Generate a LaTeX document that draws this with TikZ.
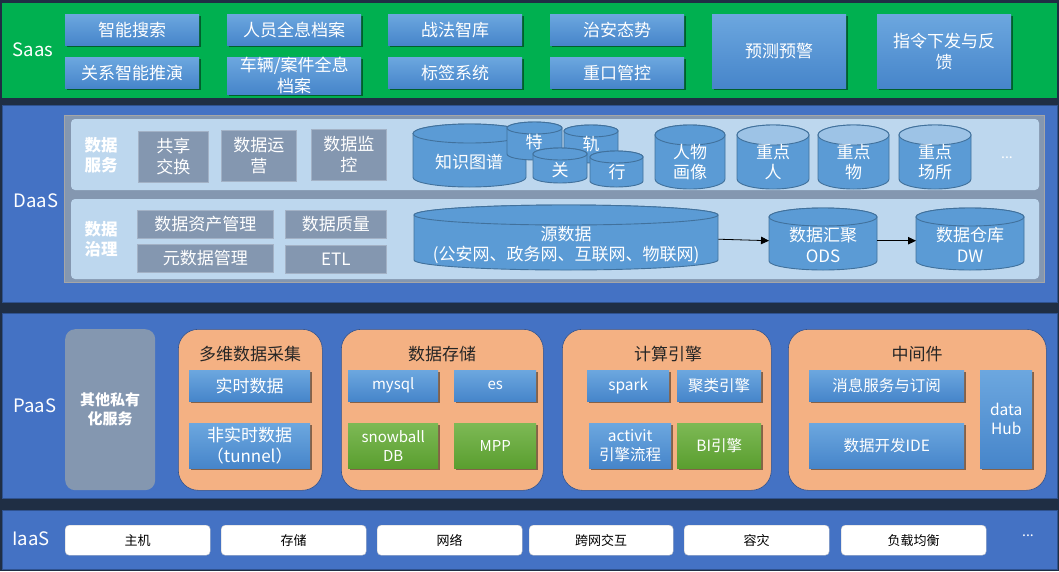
\documentclass[tikz,border=0pt]{standalone}
\usepackage{fontspec}
\setmainfont{Noto Sans CJK SC}
\usetikzlibrary{shadows,arrows.meta}
\definecolor{bgdark}{HTML}{1F2E44}
\definecolor{saasgreen}{HTML}{00B050}
\definecolor{bandblue}{HTML}{4472C4}
\definecolor{bandline}{HTML}{2F528F}
\definecolor{bxtop}{HTML}{6CA7DF}
\definecolor{bxbot}{HTML}{4685CA}
\definecolor{gtop}{HTML}{7DB955}
\definecolor{gbot}{HTML}{5A9E2F}
\definecolor{grayfill}{HTML}{8497B0}
\definecolor{grayline}{HTML}{A3B2C6}
\definecolor{lightpanel}{HTML}{BDD7EE}
\definecolor{cylfill}{HTML}{5B9BD5}
\definecolor{cylline}{HTML}{41719C}
\definecolor{cyltop}{HTML}{9DC3E6}
\definecolor{orangefill}{HTML}{F4B183}
\definecolor{titletext}{HTML}{262626}
\tikzset{
  lbl/.style={text=white, font=\fontsize{18.5}{22}\selectfont},
  f17/.style={font=\fontsize{17}{21}\selectfont},
  f16/.style={font=\fontsize{15.5}{19}\selectfont},
  f15/.style={font=\fontsize{15}{19}\selectfont},
  bluebox/.style={anchor=north west, inner sep=0pt, align=center, text=white,
    top color=bxtop, bottom color=bxbot, draw=none,
    drop shadow={shadow xshift=1.5pt, shadow yshift=-1.8pt, opacity=0.45, fill=black}},
  greenbox/.style={bluebox, top color=gtop, bottom color=gbot},
  graybox/.style={anchor=north west, inner sep=0pt, align=center, text=white,
    fill=grayfill, draw=grayline, line width=0.8pt, f17},
  whitebox/.style={anchor=north west, inner sep=0pt, fill=white, draw=gray!45,
    rounded corners=4pt, text=black, font=\fontsize{13}{15}\selectfont},
  orangebox/.style={anchor=north west, inner sep=0pt, fill=orangefill, draw=bandline,
    line width=0.6pt, rounded corners=20pt},
  otitle/.style={text=titletext, font=\fontsize{17}{21}\selectfont},
  headtext/.style={text=white, align=center, font=\fontsize{16.5}{20.5}\selectfont\bfseries},
  cylb/.style={fill=cylfill, draw=cylline, line width=0.9pt},
  cyltext/.style={text=white, align=center, inner sep=0pt, font=\fontsize{17}{20.5}\selectfont},
  band/.style={draw=bandline, line width=0.8pt},
  conn/.style={draw=black, line width=0.8pt, -{Triangle[length=8pt,width=7.5pt]}}
}
\newcommand\bx[7]{\node[#1, minimum width=#5pt, minimum height=#6pt] (#2) at (#3,#4) {#7};}
% name, x1, y1, x2, y2, ry, top fill
\newcommand\cyl[7]{%
  \pgfmathsetmacro\crx{(#4-#2)/2}%
  \pgfmathsetmacro\ccx{(#2+#4)/2}%
  \pgfmathsetmacro\ccw{#4-#2}%
  \pgfmathsetmacro\cch{#5-#3}%
  \path[cylb] (#2,#3+#6) -- (#2,#5-#6) arc[start angle=180,end angle=0,x radius=\crx,y radius=#6]
     -- (#4,#3+#6) arc[start angle=0,end angle=-180,x radius=\crx,y radius=#6] -- cycle;
  \path[cylb, fill=#7] (\ccx,#3+#6) ellipse[x radius=\crx, y radius=#6];
  \node[inner sep=0pt, minimum width=\ccw pt, minimum height=\cch pt, anchor=north west] (#1) at (#2,#3) {};
}
\begin{document}
\begin{tikzpicture}[x=1pt,y=-1pt]
\useasboundingbox (0,0) rectangle (1059,571);
\fill[bgdark] (0,0) rectangle (1059,571);

% ---------------- Saas ----------------
\path[fill=saasgreen] (2,3) rectangle (1057,98);
\node[lbl] (saas) at (33,50) {Saas};
\bx{bluebox,f17}{s1}{65}{14}{134}{31}{智能搜索}
\bx{bluebox,f17}{s2}{65}{57}{134}{31}{关系智能推演}
\bx{bluebox,f17}{s3}{227}{14}{134}{31}{人员全息档案}
\bx{bluebox,f17}{s4}{227}{57}{134}{31}{车辆/案件全息\\档案}
\bx{bluebox,f17}{s5}{388}{14}{134}{31}{战法智库}
\bx{bluebox,f17}{s6}{388}{57}{134}{31}{标签系统}
\bx{bluebox,f17}{s7}{550}{14}{134}{31}{治安态势}
\bx{bluebox,f17}{s8}{550}{57}{134}{31}{重口管控}
\bx{bluebox,f17}{s9}{712}{14}{134}{74}{预测预警}
\bx{bluebox,f17}{s10}{877}{14}{134}{74}{指令下发与反\\馈}

% ---------------- DaaS ----------------
\path[band, fill=bandblue] (2,105) rectangle (1057,302);
\node[lbl] (daas) at (36,201) {DaaS};
\path[fill=grayfill, draw=gray!70] (64,115) rectangle (1044,282);
\path[fill=lightpanel, rounded corners=4pt] (71,119) rectangle (1039,190);
\path[fill=lightpanel, rounded corners=4pt] (71,199) rectangle (1039,279);
\node[headtext] (dsvc) at (101,155) {数据\\服务};
\node[headtext] (dgov) at (101,239) {数据\\治理};
\bx{graybox}{g1}{138}{131}{70}{51}{共享\\交换}
\bx{graybox}{g2}{221}{130}{75}{51}{数据运\\营}
\bx{graybox}{g3}{311}{129}{75}{51}{数据监\\控}
\bx{graybox}{g4}{137}{210}{136}{28}{数据资产管理}
\bx{graybox}{g5}{137}{244}{136}{28}{元数据管理}
\bx{graybox}{g6}{285}{210}{101}{28}{数据质量}
\bx{graybox}{g7}{285}{245}{101}{28}{ETL}

\cyl{zs}{413}{124}{526}{187}{9.5}{cylfill}
\node[cyltext] (zs-t) at (469,162) {知识图谱};
\cyl{te}{507}{122}{562}{160}{6}{cylfill}
\node[cyltext] (te-t) at (534,142) {特};
\cyl{gu}{564}{125}{618}{163}{6}{cylfill}
\node[cyltext] (gu-t) at (591,144) {轨};
\cyl{ga}{533}{148}{587}{183}{6}{cylfill}
\node[cyltext] (ga-t) at (560,170) {关};
\cyl{xi}{590}{151}{643}{187}{6}{cylfill}
\node[cyltext] (xi-t) at (617,172) {行};
\cyl{rw}{655}{125}{725}{189}{10}{cylfill}
\node[cyltext] (rw-t) at (690,162) {人物\\画像};
\cyl{zr}{737}{125}{809}{189}{10}{cyltop}
\node[cyltext] (zr-t) at (773,162) {重点\\人};
\cyl{zw}{818}{125}{889}{189}{10}{cyltop}
\node[cyltext] (zw-t) at (853.5,162) {重点\\物};
\cyl{zc}{899}{125}{971}{189}{10}{cyltop}
\node[cyltext] (zc-t) at (935,162) {重点\\场所};
\node[text=white, font=\fontsize{14}{16}\selectfont] (dots1) at (1007,158) {...};

\cyl{src}{414}{205}{718}{270}{10}{cylfill}
\node[cyltext] (src-t) at (566,245) {源数据\\(公安网、政务网、互联网、物联网)};
\cyl{ods}{769}{208}{877}{270}{9}{cylfill}
\node[cyltext] (ods-t) at (823,245) {数据汇聚\\ODS};
\cyl{dw}{916}{208}{1024}{270}{9}{cylfill}
\node[cyltext] (dw-t) at (970,245) {数据仓库\\DW};
\draw[conn] ([yshift=-1.5pt]src.east) -- ([yshift=-1.5pt]ods.west);
\draw[conn] ([yshift=-1.5pt]ods.east) -- ([yshift=-1.5pt]dw.west);

% ---------------- PaaS ----------------
\path[band, fill=bandblue] (2,313) rectangle (1057,498);
\node[lbl] (paas) at (35,406) {PaaS};
\node[anchor=north west, inner sep=0pt, fill=grayfill, rounded corners=10pt,
  minimum width=90pt, minimum height=161pt] (oth) at (65,329) {};
\node[headtext, font=\fontsize{15}{19}\selectfont\bfseries] (oth-t) at (oth.center) {其他私有\\化服务};

\bx{orangebox}{acq}{178}{329}{144}{161}{}
\node[otitle] (acq-t) at (250,354) {多维数据采集};
\bx{orangebox}{sto}{341}{329}{202}{161}{}
\node[otitle] (sto-t) at (442,354) {数据存储};
\bx{orangebox}{cmp}{562}{329}{209}{161}{}
\node[otitle] (cmp-t) at (668,354) {计算引擎};
\bx{orangebox}{mid}{788}{329}{258}{161}{}
\node[otitle] (mid-t) at (917,354) {中间件};

\bx{bluebox,f17}{p1}{189}{370}{121}{31}{实时数据}
\bx{bluebox,f17}{p2}{189}{423}{121}{45}{非实时数据\\（tunnel）}
\bx{bluebox,f15}{m1}{348}{370}{90}{31}{mysql}
\bx{bluebox,f15}{m2}{454}{370}{82}{31}{es}
\bx{greenbox,f15}{m3}{348}{423}{90}{45}{snowball\\DB}
\bx{greenbox,f15}{m4}{454}{423}{82}{45}{MPP}
\bx{bluebox,f16}{c1}{587}{370}{82}{31}{spark}
\bx{bluebox,f16}{c2}{677}{370}{84}{31}{聚类引擎}
\bx{bluebox,f16}{c3}{589}{423}{82}{45}{activit\\引擎流程}
\bx{greenbox,f16}{c4}{677}{423}{84}{45}{BI引擎}
\bx{bluebox,f16}{w1}{809}{370}{155}{31}{消息服务与订阅}
\bx{bluebox,f16}{w2}{809}{423}{155}{45}{数据开发IDE}
\bx{bluebox,f16}{w3}{980}{370}{52}{98}{data\\Hub}

% ---------------- IaaS ----------------
\path[band, fill=bandblue] (2,510) rectangle (1057,569);
\node[lbl] (iaas) at (31,539) {IaaS};
\bx{whitebox}{i1}{65}{525}{145}{30}{主机}
\bx{whitebox}{i2}{221}{525}{145}{30}{存储}
\bx{whitebox}{i3}{377}{525}{145}{30}{网络}
\bx{whitebox}{i4}{529}{525}{144}{30}{跨网交互}
\bx{whitebox}{i5}{684}{525}{145}{30}{容灾}
\bx{whitebox}{i6}{841}{525}{145}{30}{负载均衡}
\node[text=white, font=\fontsize{14}{16}\selectfont] (dots2) at (1028,536) {...};
\end{tikzpicture}
\end{document}
